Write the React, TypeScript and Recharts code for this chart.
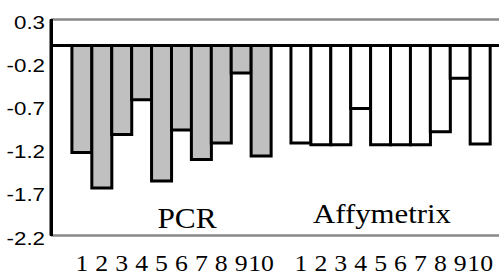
import React from 'react';
import { BarChart, Bar, XAxis, YAxis, ReferenceLine, Cell } from 'recharts';

const categories = ['', '1', '2', '3', '4', '5', '6', '7', '8', '9', '10', '', '1', '2', '3', '4', '5', '6', '7', '8', '9', '10', ''];
const pcrValues = [-1.24, -1.65, -1.03, -0.63, -1.57, -0.98, -1.32, -1.13, -0.32, -1.28];
const affyValues = [-1.13, -1.15, -1.15, -0.73, -1.15, -1.15, -1.15, -1.0, -0.38, -1.14];
const yTicks = [0.3, -0.2, -0.7, -1.2, -1.7, -2.2];
const groupLabels = ['PCR', 'Affymetrix'];

const GRAY_FILL = '#c0c0c0';
const LINE_GRAY = '#888888';
const Y_AXIS_WIDTH = 51;
const MARGIN_TOP = 19.5;
const X_AXIS_HEIGHT = 40.5;
const CHART_H = 276;

type Row = { key: number; label: string; value: number | null; group: string };

const data: Row[] = categories.map((label, i) => {
  let value: number | null = null;
  let group = '';
  if (i >= 1 && i <= 10) {
    value = pcrValues[i - 1];
    group = 'pcr';
  } else if (i >= 12 && i <= 21) {
    value = affyValues[i - 12];
    group = 'affy';
  }
  return { key: i, label, value, group };
});

const XTick = (props: any) => {
  const { x, payload } = props;
  const label = categories[Number(payload.value)] ?? '';
  if (!label) return null;
  return (
    <g transform={`translate(${x},270.5) scale(1.12,1)`}>
      <text x={0} y={0} textAnchor="middle" fontFamily="Liberation Serif" fontSize={23} fill="#000">
        {label}
      </text>
    </g>
  );
};

const YTick = (props: any) => {
  const { y, payload } = props;
  return (
    <g transform={`translate(45,${y}) scale(1.2,1)`}>
      <text x={0} y={9} textAnchor="end" fontFamily="Liberation Sans" fontSize={18.6} fill="#000">
        {String(payload.value)}
      </text>
    </g>
  );
};

export default function App() {
  const plotBottom = CHART_H - X_AXIS_HEIGHT;
  return (
    <div style={{ position: 'absolute', left: 0, top: 0, width: 499, height: 276, overflow: 'hidden', background: '#fff' }}>
      <BarChart
        width={510}
        height={CHART_H}
        data={data}
        margin={{ top: MARGIN_TOP, right: 0, bottom: 0, left: 0 }}
        barCategoryGap={0}
        barGap={0}
      >
        <XAxis
          dataKey="key"
          height={X_AXIS_HEIGHT}
          interval={0}
          tickLine={false}
          axisLine={{ stroke: LINE_GRAY, strokeWidth: 2.5 }}
          tick={<XTick />}
          padding={{ left: 1, right: 0 }}
        />
        <YAxis
          type="number"
          domain={[-2.2, 0.3]}
          ticks={yTicks}
          interval={0}
          width={Y_AXIS_WIDTH}
          tickLine={false}
          axisLine={{ stroke: '#000', strokeWidth: 3 }}
          tick={<YTick />}
        />
        <ReferenceLine y={0.3} stroke={LINE_GRAY} strokeWidth={2.5} />
        <Bar dataKey="value" isAnimationActive={false} stroke="#000" strokeWidth={3}>
          {data.map((d) => (
            <Cell key={d.key} fill={d.group === 'pcr' ? GRAY_FILL : '#ffffff'} />
          ))}
        </Bar>
        <ReferenceLine y={0} stroke="#000" strokeWidth={3} />
      </BarChart>
      <div
        style={{
          position: 'absolute',
          left: Y_AXIS_WIDTH - 1.5,
          top: MARGIN_TOP - 1,
          width: 3,
          height: plotBottom - MARGIN_TOP + 1.5,
          background: '#000',
        }}
      />
      <svg width={499} height={276} style={{ position: 'absolute', left: 0, top: 0, pointerEvents: 'none' }}>
        <g transform="translate(187,228) scale(1.08,1)">
          <text x={0} y={0} textAnchor="middle" fontFamily="Liberation Serif" fontSize={29} fill="#000">
            {groupLabels[0]}
          </text>
        </g>
        <g transform="translate(382,223) scale(1.1,1)">
          <text x={0} y={0} textAnchor="middle" fontFamily="Liberation Serif" fontSize={28} fill="#000">
            {groupLabels[1]}
          </text>
        </g>
      </svg>
    </div>
  );
}
